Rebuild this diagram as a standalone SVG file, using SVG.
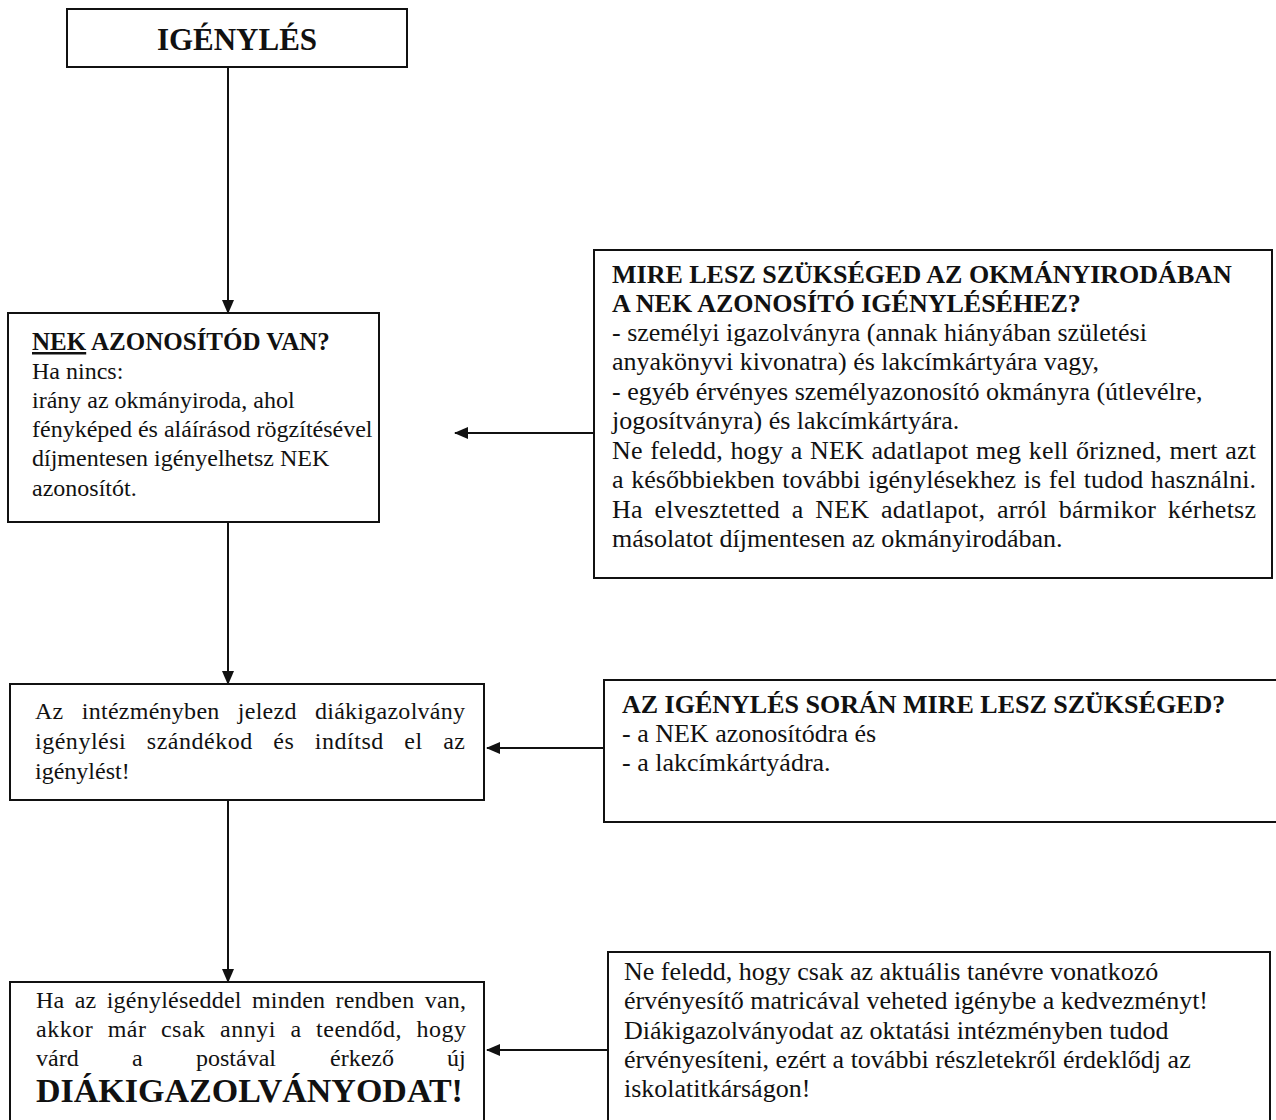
<svg xmlns="http://www.w3.org/2000/svg" width="1276" height="1120" viewBox="0 0 1276 1120">
<style>
.box{fill:#fff;stroke:#111;stroke-width:2}
.t{font-family:"Liberation Serif","Times New Roman",serif;fill:#111}
.l{font-size:24px}
.r{font-size:26px}
.b{font-weight:bold}
.c{stroke:#111;stroke-width:2;fill:none}
</style>
<defs>
<marker id="ah" viewBox="0 0 14 12" refX="13" refY="6" markerWidth="14" markerHeight="12" markerUnits="userSpaceOnUse" orient="auto">
<path d="M0,0 L14,6 L0,12 z" fill="#111"/>
</marker>
</defs>
<rect width="1276" height="1120" fill="#fff"/>
<g id="connectors">
<line class="c" x1="228" y1="67" x2="228" y2="313" marker-end="url(#ah)"/>
<line class="c" x1="228" y1="522" x2="228" y2="684" marker-end="url(#ah)"/>
<line class="c" x1="228" y1="800" x2="228" y2="982" marker-end="url(#ah)"/>
<line class="c" x1="594" y1="433" x2="455" y2="433" marker-end="url(#ah)"/>
<line class="c" x1="604" y1="748" x2="487" y2="748" marker-end="url(#ah)"/>
<line class="c" x1="608" y1="1050" x2="487" y2="1050" marker-end="url(#ah)"/>
</g>
<g id="igenyles">
<rect class="box" x="67" y="9" width="340" height="58"/>
<text class="t b" x="237" y="50" font-size="31" text-anchor="middle">IGÉNYLÉS</text>
</g>
<g id="nek">
<rect class="box" x="8" y="313" width="371" height="209"/>
<text class="t l">
<tspan x="32" y="350" class="b" font-size="25"><tspan text-decoration="underline">NEK</tspan> AZONOSÍTÓD VAN?</tspan>
<tspan x="32" y="379">Ha nincs:</tspan>
<tspan x="32" y="408">irány az okmányiroda, ahol</tspan>
<tspan x="32" y="437">fényképed és aláírásod rögzítésével</tspan>
<tspan x="32" y="466">díjmentesen igényelhetsz NEK</tspan>
<tspan x="32" y="496">azonosítót.</tspan>
</text>
</g>
<g id="mire-okmany">
<rect class="box" x="594" y="250" width="678" height="328"/>
<text class="t r b" x="612" y="283">MIRE LESZ SZÜKSÉGED AZ OKMÁNYIRODÁBAN</text>
<text class="t r b" x="612" y="312">A NEK AZONOSÍTÓ IGÉNYLÉSÉHEZ?</text>
<text class="t r" x="612" y="341">- személyi igazolványra (annak hiányában születési</text>
<text class="t r" x="612" y="370">anyakönyvi kivonatra) és lakcímkártyára vagy,</text>
<text class="t r" x="612" y="400">- egyéb érvényes személyazonosító okmányra (útlevélre,</text>
<text class="t r" x="612" y="429">jogosítványra) és lakcímkártyára.</text>
<text class="t r" x="612" y="459" word-spacing="1" textLength="644" lengthAdjust="spacing">Ne feledd, hogy a NEK adatlapot meg kell őrizned, mert azt</text>
<text class="t r" x="612" y="488" word-spacing="1" textLength="644" lengthAdjust="spacing">a későbbiekben további igénylésekhez is fel tudod használni.</text>
<text class="t r" x="612" y="518" word-spacing="5" textLength="644" lengthAdjust="spacing">Ha elvesztetted a NEK adatlapot, arról bármikor kérhetsz</text>
<text class="t r" x="612" y="547">másolatot díjmentesen az okmányirodában.</text>
</g>
<g id="intezmeny">
<rect class="box" x="10" y="684" width="474" height="116"/>
<text class="t l" x="35" y="719" word-spacing="12" textLength="430" lengthAdjust="spacing">Az intézményben jelezd diákigazolvány</text>
<text class="t l" x="35" y="749" word-spacing="14" textLength="430" lengthAdjust="spacing">igénylési szándékod és indítsd el az</text>
<text class="t l" x="35" y="779">igénylést!</text>
</g>
<g id="mire-igenyles">
<rect class="box" x="604" y="680" width="680" height="142"/>
<text class="t r b" x="622" y="713">AZ IGÉNYLÉS SORÁN MIRE LESZ SZÜKSÉGED?</text>
<text class="t r" x="622" y="742">- a NEK azonosítódra és</text>
<text class="t r" x="622" y="771">- a lakcímkártyádra.</text>
</g>
<g id="varakozas">
<rect class="box" x="10" y="982" width="474" height="160"/>
<text class="t l" x="36" y="1008" word-spacing="4" textLength="430" lengthAdjust="spacing">Ha az igényléseddel minden rendben van,</text>
<text class="t l" x="36" y="1037" word-spacing="8" textLength="430" lengthAdjust="spacing">akkor már csak annyi a teendőd, hogy</text>
<text class="t l" y="1066"><tspan x="36">várd</tspan><tspan x="132">a</tspan><tspan x="196">postával</tspan><tspan x="330">érkező</tspan><tspan x="447">új</tspan></text>
<text class="t b" x="36" y="1102" font-size="34">DIÁKIGAZOLVÁNYODAT!</text>
</g>
<g id="ervenyesites">
<rect class="box" x="608" y="952" width="662" height="190"/>
<text class="t r" x="624" y="980">Ne feledd, hogy csak az aktuális tanévre vonatkozó</text>
<text class="t r" x="624" y="1009">érvényesítő matricával veheted igénybe a kedvezményt!</text>
<text class="t r" x="624" y="1039">Diákigazolványodat az oktatási intézményben tudod</text>
<text class="t r" x="624" y="1068">érvényesíteni, ezért a további részletekről érdeklődj az</text>
<text class="t r" x="624" y="1097">iskolatitkárságon!</text>
</g>
</svg>
